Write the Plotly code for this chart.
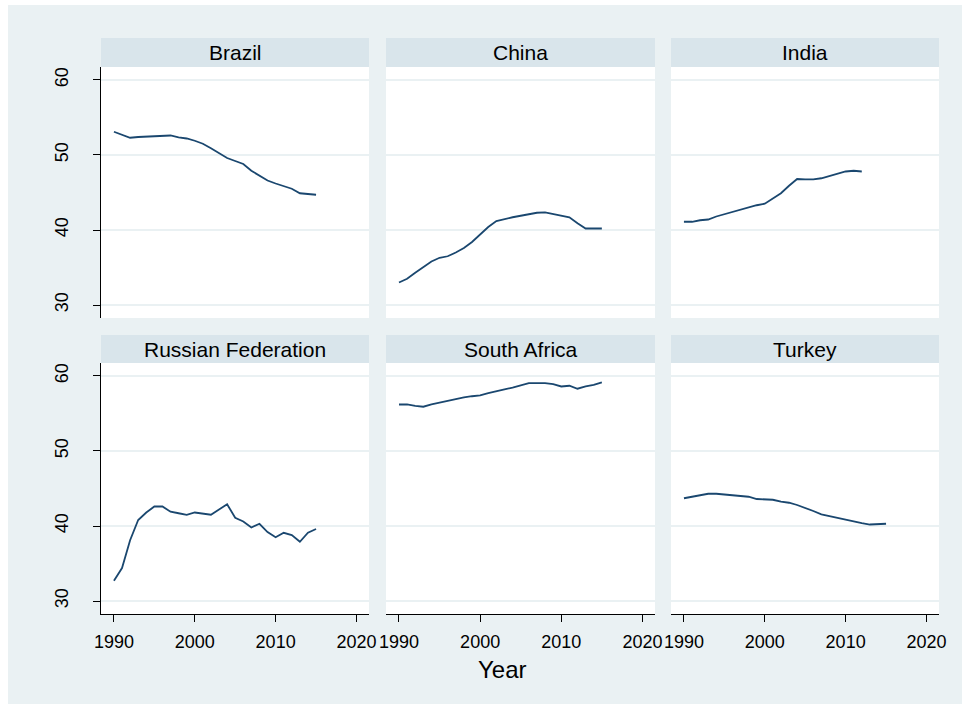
import plotly.graph_objects as go
from plotly.subplots import make_subplots

# data
countries = ["Brazil", "China", "India", "Russian Federation", "South Africa", "Turkey"]
years = list(range(1990, 2016))
years_india = list(range(1990, 2013))

brazil = [53.1, 52.7, 52.3, 52.4, 52.45, 52.45, 52.6, 52.6, 52.35, 52.2, 51.9, 51.5, 50.9,
          50.2, 49.6, 49.2, 48.8, 47.9, 47.2, 46.6, 46.2, 45.9, 45.5, 44.9, 44.8, 44.7]
china = [33.0, 33.5, 34.3, 35.1, 35.8, 36.3, 36.5, 37.0, 37.6, 38.4, 39.4, 40.4, 41.2,
         41.5, 41.7, 41.9, 42.1, 42.3, 42.35, 42.1, 41.9, 41.7, 40.9, 40.2, 40.2, 40.2]
india = [41.1, 41.1, 41.3, 41.4, 41.8, 42.1, 42.4, 42.7, 43.1, 43.3, 43.5, 44.2, 44.9,
         45.9, 46.8, 46.75, 46.75, 46.9, 47.2, 47.5, 47.8, 47.9, 47.8]
russia = [32.7, 34.4, 38.1, 40.8, 41.8, 42.6, 42.6, 41.9, 41.7, 41.5, 41.8, 41.6, 41.5,
          42.2, 42.9, 41.1, 40.6, 39.8, 40.3, 39.2, 38.5, 39.1, 38.8, 37.9, 39.1, 39.6]
south_africa = [56.2, 56.2, 56.0, 55.9, 56.2, 56.45, 56.7, 56.97, 57.15, 57.3, 57.4, 57.7, 57.9,
                58.2, 58.45, 58.75, 59.05, 59.05, 59.05, 58.9, 58.6, 58.7, 58.3, 58.6, 58.8, 59.15]
turkey = [43.7, 43.9, 44.1, 44.3, 44.3, 44.2, 44.05, 43.95, 43.9, 43.6, 43.6, 43.5, 43.25,
          43.1, 42.8, 42.45, 42.0, 41.55, 41.3, 41.1, 40.9, 40.6, 40.4, 40.2, 40.3, 40.3]

series = [(years, brazil), (years, china), (years_india, india),
          (years, russia), (years, south_africa), (years, turkey)]

W, H = 962, 704
OUTER = "#EAF1F3"
STRIP = "#D9E5EB"
LINE = "#1A476F"
FONT = "Liberation Sans, Arial, sans-serif"

col_px = [(101, 369), (386, 655), (671, 939)]
row_px = [(67, 318), (363, 614)]
strip_px = [(38, 67), (335, 363)]


def px_x(v):
    return v / W


def px_y(v):
    return 1 - v / H


fig = make_subplots(rows=2, cols=3)

for i, (xs, ys) in enumerate(series):
    r, c = i // 3 + 1, i % 3 + 1
    fig.add_trace(go.Scatter(x=xs, y=ys, mode="lines", line=dict(color=LINE, width=1.8),
                             showlegend=False, hoverinfo="skip"), row=r, col=c)

for i in range(6):
    r, c = i // 3, i % 3
    n = "" if i == 0 else str(i + 1)
    x0, x1 = col_px[c]
    y0, y1 = row_px[r]
    fig.layout["xaxis" + n].update(
        domain=[px_x(x0), px_x(x1)], range=[1988.4, 2021.55],
        tickvals=[1990, 2000, 2010, 2020], showgrid=False, zeroline=False,
        showline=(r == 1), linecolor="black", linewidth=1,
        ticks="outside" if r == 1 else "", ticklen=7, tickcolor="black",
        showticklabels=(r == 1), ticklabelstandoff=4, automargin=False,
        tickfont=dict(family=FONT, size=18, color="black"))
    fig.layout["yaxis" + n].update(
        domain=[px_y(y1), px_y(y0)], range=[28.27, 61.73],
        tickvals=[30, 40, 50, 60], showgrid=True, gridcolor=OUTER, gridwidth=2,
        zeroline=False, showline=(c == 0), linecolor="black", linewidth=1,
        ticks="outside" if c == 0 else "", ticklen=7, tickcolor="black",
        showticklabels=(c == 0), tickangle=-90, ticklabelstandoff=18, automargin=False,
        tickfont=dict(family=FONT, size=18, color="black"))
    # strip header
    s0, s1 = strip_px[r]
    fig.add_shape(type="rect", xref="paper", yref="paper",
                  x0=px_x(x0), x1=px_x(x1), y0=px_y(s1), y1=px_y(s0),
                  fillcolor=STRIP, line=dict(width=0), layer="below")
    fig.add_annotation(text=countries[i], xref="paper", yref="paper",
                       x=px_x((x0 + x1) / 2), y=px_y((s0 + s1) / 2),
                       xanchor="center", yanchor="middle", showarrow=False,
                       font=dict(family=FONT, size=21, color="black"))

# white margins outside the graph region
fig.add_shape(type="rect", xref="paper", yref="paper", x0=0, x1=px_x(8), y0=0, y1=1,
              fillcolor="white", line=dict(width=0), layer="below")
fig.add_shape(type="rect", xref="paper", yref="paper", x0=0, x1=1, y0=px_y(5), y1=1,
              fillcolor="white", line=dict(width=0), layer="below")

fig.add_annotation(text="Year", xref="paper", yref="paper", x=px_x(502), y=px_y(669),
                   xanchor="center", yanchor="middle", showarrow=False,
                   font=dict(family=FONT, size=24, color="black"))

fig.update_layout(width=W, height=H, margin=dict(l=0, r=0, t=0, b=0),
                  paper_bgcolor=OUTER, plot_bgcolor="white",
                  font=dict(family=FONT, color="black"))

fig.write_html("out.html", config={"displayModeBar": False},
               post_script="document.body.style.margin='0';")
